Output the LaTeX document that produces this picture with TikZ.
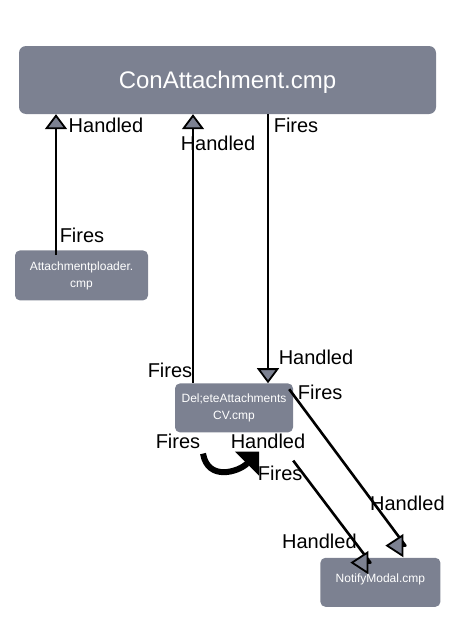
\documentclass[tikz,border=0pt]{standalone}
\usepackage{fontspec}
\setmainfont{Liberation Sans}
\usetikzlibrary{arrows.meta}
\definecolor{boxgray}{RGB}{124,129,145}

\begin{document}
\begin{tikzpicture}[x=1pt, y=1pt,
    box/.style={fill=boxgray, text=white, rounded corners=5pt, inner sep=0pt, align=center, font=\fontsize{12}{17}\selectfont},
    conn/.style={line width=2.8pt, -{Triangle[length=15pt, width=22pt, fill=boxgray, line width=1.8pt]}},
    sideconn/.style={line width=2.6pt, line join=round, -{Triangle[length=18pt, width=23pt, fill=boxgray, line width=1.8pt]}},
    lbl/.style={inner sep=0pt, font=\fontsize{20}{24}\selectfont}]
    \useasboundingbox (0,0) rectangle (452,-640);

    \node[box, minimum width=417pt, minimum height=68pt, rounded corners=7pt, font=\fontsize{24}{28}\selectfont, text depth=0pt] (main) at (227.5,-80) {ConAttachment.cmp};
    \node[box, anchor=north west, minimum width=133pt, minimum height=50pt] (upload) at ([xshift=-4pt, yshift=-136pt]main.south west) {Attachmentploader.\\cmp};
    \node[box, anchor=north, minimum width=118pt, minimum height=49pt] (delete) at ([xshift=6.5pt, yshift=-269pt]main.south) {Del;eteAttachments\\CV.cmp};
    \node[box, anchor=north west, minimum width=120pt, minimum height=49pt, text depth=9pt] (notify) at ([xshift=27pt, yshift=-125pt]delete.south east) {NotifyModal.cmp};

    \coordinate (upfire) at ([xshift=-25.5pt, yshift=-5pt]upload.north);
    \coordinate (delfire) at ([xshift=-41pt]delete.north);
    \coordinate (delhandled) at ([xshift=34pt]delete.north);
    \coordinate (notifyfire) at ([xshift=-4pt, yshift=-6pt]delete.north east);
    \coordinate (notifyfire2) at ([yshift=-28pt]delete.south east);
    \coordinate (notifyin) at ([xshift=25pt, yshift=12pt]notify.north);
    \coordinate (notifyin2) at ([xshift=-10pt, yshift=-5pt]notify.north);
    \coordinate (loopstart) at ([xshift=-31pt, yshift=-21pt]delete.south);
    \coordinate (loopend) at ([xshift=25pt, yshift=-19pt]delete.south);

    \draw[conn] (upfire) -- (upfire |- main.south)
        node[lbl, at start, xshift=26pt, yshift=20pt] {Fires}
        node[lbl, at end, xshift=50pt, yshift=-11pt] {Handled};
    \draw[conn] (delfire) -- (delfire |- main.south)
        node[lbl, at start, xshift=-23pt, yshift=13pt] {Fires}
        node[lbl, at end, xshift=25pt, yshift=-29pt] {Handled};
    \draw[conn] (delhandled |- main.south) -- (delhandled)
        node[lbl, at start, xshift=28pt, yshift=-11pt] {Fires}
        node[lbl, at end, xshift=48pt, yshift=26pt] {Handled};

    \draw[sideconn] (notifyfire) -- (notifyin)
        node[lbl, at start, xshift=31pt, yshift=-3pt] {Fires}
        node[lbl, at end, xshift=2pt, yshift=42pt] {Handled}
        -- ++(-20pt,0);
    \draw[sideconn] (notifyfire2) -- (notifyin2)
        node[lbl, at start, xshift=-13pt, yshift=-13pt] {Fires}
        node[lbl, at end, xshift=-51pt, yshift=21pt] {Handled}
        -- ++(-20pt,0);

    \draw[line width=6pt, -{Triangle[length=17pt, width=34pt, line width=1pt]}] (loopstart)
        to[out=-80, in=-135, looseness=1.3]
        node[lbl, at start, xshift=-25pt, yshift=12pt] {Fires}
        node[lbl, at end, xshift=9pt, yshift=10pt] {Handled} (loopend);
\end{tikzpicture}
\end{document}
